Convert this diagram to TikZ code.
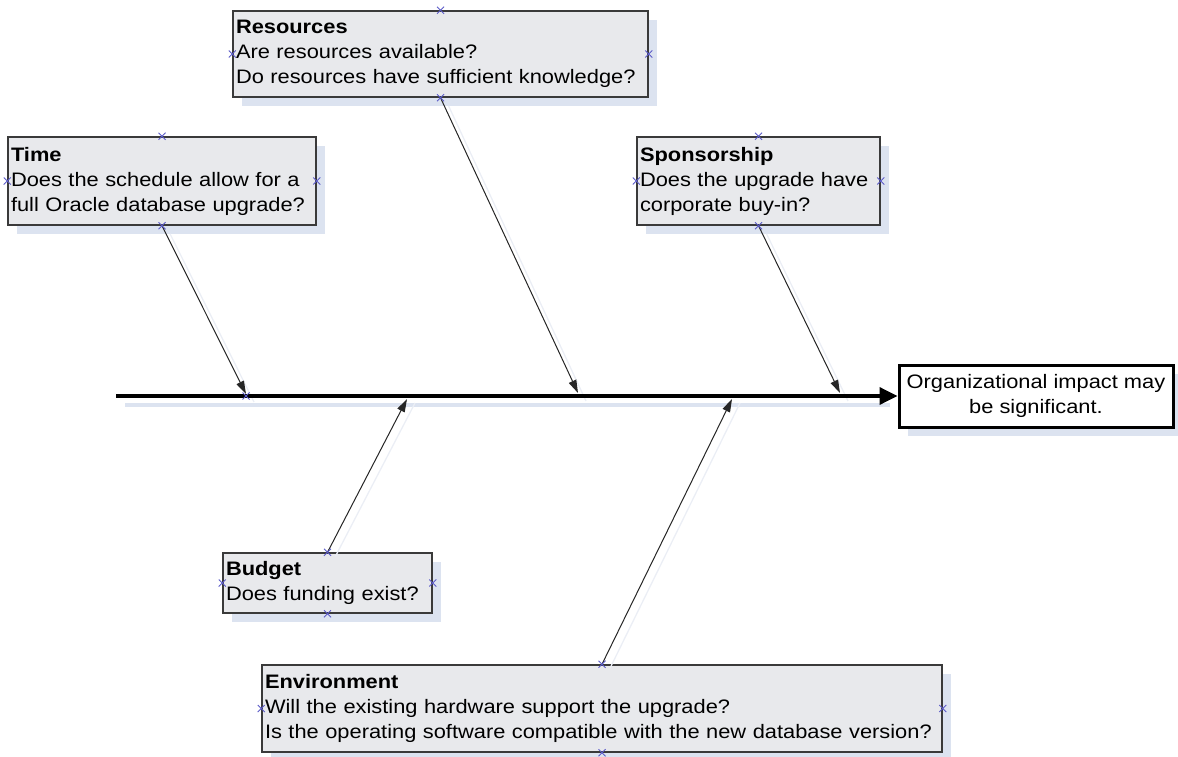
\documentclass[tikz,border=0pt]{standalone}
\usepackage{fontspec}
\setmainfont{Liberation Sans}[FakeStretch=1.12]
\usetikzlibrary{shadows,arrows.meta}
\definecolor{boxfill}{HTML}{E8E9EC}
\definecolor{boxline}{HTML}{3A3A3A}
\definecolor{shadowblue}{HTML}{DCE3F0}
\definecolor{bshadow}{HTML}{EBEEF5}
\definecolor{markblue}{HTML}{5B5BC8}
\tikzset{
  cause/.style={draw=boxline, line width=1.5pt, fill=boxfill, inner xsep=3pt, inner ysep=0pt,
    align=left, font=\fontsize{19.5}{25}\selectfont,
    drop shadow={shadow xshift=9pt, shadow yshift=-9pt, fill=shadowblue, opacity=1}},
  effectbox/.style={draw=black, line width=3pt, fill=white, inner sep=0pt, align=center,
    font=\fontsize{19.5}{25}\selectfont,
    drop shadow={shadow xshift=9pt, shadow yshift=-9pt, fill=shadowblue, opacity=1}},
  bone/.style={draw=black!85, line width=1pt, -{Triangle[length=13pt,width=8pt]}},
  boneshadow/.style={draw=bshadow, line width=1.3pt},
  spine/.style={draw=black, line width=3.5pt, -{Triangle[length=18pt,width=17pt]}},
  spineshadow/.style={draw=shadowblue, line width=3.5pt},
  cpmark/.style={draw=markblue, line width=0.8pt},
}
\begin{document}
\begin{tikzpicture}[x=1pt,y=-1pt]
\useasboundingbox (0,0) rectangle (1178,757);

% spine coordinates
\coordinate (tail) at (116,396);
\coordinate (tTime) at (246,394);
\coordinate (tRes) at (578,393);
\coordinate (tSpon) at (840,393);
\coordinate (tBud) at (407,399);
\coordinate (tEnv) at (732,399);

% spine shadow
\draw[spineshadow] (125,405) -- (890,405);

% cause boxes
\node[cause, minimum width=308pt, minimum height=88pt, text width=302pt] (time) at (162,181)
  {\mbox{\textbf{Time}}\\\mbox{Does the schedule allow for a}\\\mbox{full Oracle database upgrade?}};
\node[cause, minimum width=415pt, minimum height=86pt, text width=409pt] (res) at (440.5,54)
  {\mbox{\textbf{Resources}}\\\mbox{Are resources available?}\\\mbox{Do resources have sufficient knowledge?}};
\node[cause, minimum width=243pt, minimum height=88pt, text width=237pt] (spon) at (758.5,181)
  {\mbox{\textbf{Sponsorship}}\\\mbox{Does the upgrade have}\\\mbox{corporate buy-in?}};
\node[cause, minimum width=209pt, minimum height=60pt, text width=203pt] (budget) at (327.5,583)
  {\mbox{\textbf{Budget}}\\\mbox{Does funding exist?}};
\node[cause, minimum width=680pt, minimum height=87pt, text width=674pt] (env) at (602,708.5)
  {\mbox{\textbf{Environment}}\\\mbox{Will the existing hardware support the upgrade?}\\\mbox{Is the operating software compatible with the new database version?}};

% effect box
\node[effectbox, minimum width=274pt, minimum height=62pt] (effect) at (1036,396)
  {Organizational impact may\\be significant.};

% bone shadows
\foreach \b/\t in {time/tTime, res/tRes, spon/tSpon} {
  \draw[boneshadow] ([shift={(8,8)}]\b.south) -- ([shift={(8,8)}]\t);
}
\foreach \b/\t in {budget/tBud, env/tEnv} {
  \draw[boneshadow] ([shift={(8,4)}]\b.north) -- ([shift={(8,4)}]\t);
}

% spine
\draw[spine] (tail) -- (effect.west);

% bones
\draw[bone] (time.south) -- (tTime);
\draw[bone] (res.south) -- (tRes);
\draw[bone] (spon.south) -- (tSpon);
\draw[bone] (budget.north) -- (tBud);
\draw[bone] (env.north) -- (tEnv);

% connection point markers
\foreach \n in {time,res,spon,budget,env} {
  \foreach \a in {north,south,east,west} {
    \draw[cpmark] (\n.\a) +(-3.5,-3.5) -- +(3.5,3.5) +(-3.5,3.5) -- +(3.5,-3.5);
  }
}
\draw[cpmark] (tTime) +(-3.5,-1.5) -- +(3.5,5.5) +(-3.5,5.5) -- +(3.5,-1.5);
\end{tikzpicture}
\end{document}
